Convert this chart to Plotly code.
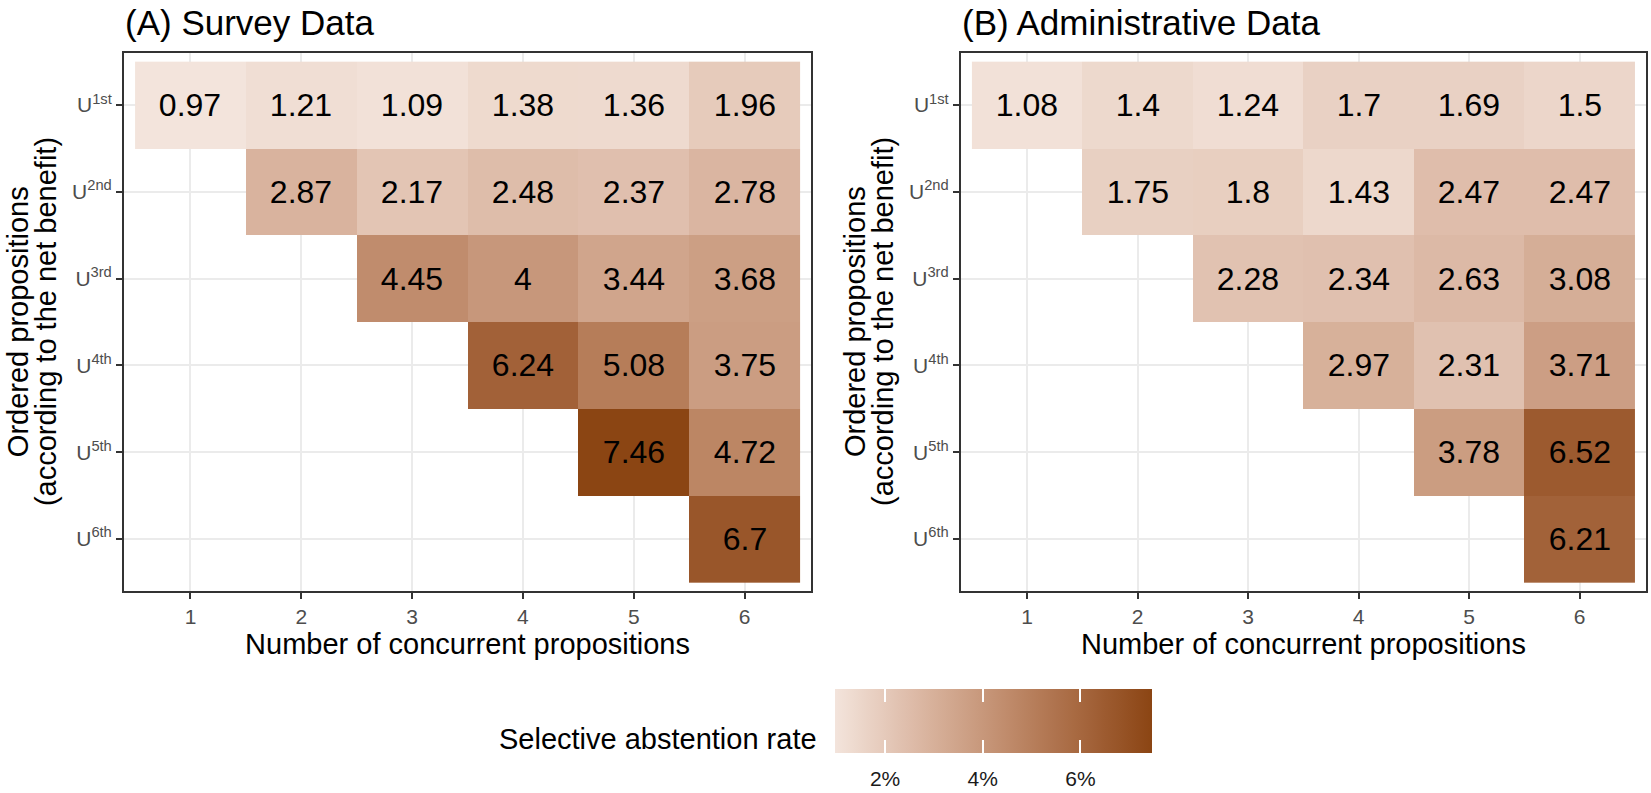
import plotly.graph_objects as go
import numpy as np

# ---------------- data ----------------
n_props = [1, 2, 3, 4, 5, 6]
rank_labels = ["U<sup>1st</sup>", "U<sup>2nd</sup>", "U<sup>3rd</sup>",
               "U<sup>4th</sup>", "U<sup>5th</sup>", "U<sup>6th</sup>"]
ranks = [1, 2, 3, 4, 5, 6]

survey_u1 = [0.97, 1.21, 1.09, 1.38, 1.36, 1.96]
survey_u2 = [None, 2.87, 2.17, 2.48, 2.37, 2.78]
survey_u3 = [None, None, 4.45, 4.00, 3.44, 3.68]
survey_u4 = [None, None, None, 6.24, 5.08, 3.75]
survey_u5 = [None, None, None, None, 7.46, 4.72]
survey_u6 = [None, None, None, None, None, 6.70]

admin_u1 = [1.08, 1.40, 1.24, 1.70, 1.69, 1.50]
admin_u2 = [None, 1.75, 1.80, 1.43, 2.47, 2.47]
admin_u3 = [None, None, 2.28, 2.34, 2.63, 3.08]
admin_u4 = [None, None, None, 2.97, 2.31, 3.71]
admin_u5 = [None, None, None, None, 3.78, 6.52]
admin_u6 = [None, None, None, None, None, 6.21]

colorbar_ticks = [2, 4, 6]
colorbar_ticklabels = ["2%", "4%", "6%"]

survey = [survey_u1, survey_u2, survey_u3, survey_u4, survey_u5, survey_u6]
admin = [admin_u1, admin_u2, admin_u3, admin_u4, admin_u5, admin_u6]

# --------------- colour scale (Lab interpolation like ggplot) ---------------
LOW = "#F3E4DC"
HIGH = "#8B4513"


def hex2rgb(h):
    h = h.lstrip("#")
    return np.array([int(h[i:i + 2], 16) / 255 for i in (0, 2, 4)])


def srgb2lin(c):
    return np.where(c <= 0.04045, c / 12.92, ((c + 0.055) / 1.055) ** 2.4)


def lin2srgb(c):
    c = np.clip(c, 0, 1)
    return np.where(c <= 0.0031308, 12.92 * c, 1.055 * c ** (1 / 2.4) - 0.055)


M = np.array([[0.4124564, 0.3575761, 0.1804375],
              [0.2126729, 0.7151522, 0.0721750],
              [0.0193339, 0.1191920, 0.9503041]])
WP = np.array([0.95047, 1.0, 1.08883])


def f(t):
    d = 6 / 29
    return np.where(t > d ** 3, np.cbrt(t), t / (3 * d * d) + 4 / 29)


def finv(t):
    d = 6 / 29
    return np.where(t > d, t ** 3, 3 * d * d * (t - 4 / 29))


def rgb2lab(rgb):
    xyz = M @ srgb2lin(rgb) / WP
    fx, fy, fz = f(xyz)
    return np.array([116 * fy - 16, 500 * (fx - fy), 200 * (fy - fz)])


def lab2rgb(lab):
    L, a, b = lab
    fy = (L + 16) / 116
    fx = fy + a / 500
    fz = fy - b / 200
    xyz = np.array([finv(fx), finv(fy), finv(fz)]) * WP
    return lin2srgb(np.linalg.inv(M) @ xyz)


lab_lo, lab_hi = rgb2lab(hex2rgb(LOW)), rgb2lab(hex2rgb(HIGH))
colorscale = []
for t in np.linspace(0, 1, 21):
    r, g, b = (lab2rgb(lab_lo + (lab_hi - lab_lo) * t) * 255).round().astype(int)
    colorscale.append([float(t), f"rgb({r},{g},{b})"])

allvals = [v for m in (survey, admin) for row in m for v in row if v is not None]
cmin, cmax = min(allvals), max(allvals)


def labels(m):
    return [["" if v is None else f"{v:g}" for v in row] for row in m]


# ---------------- figure ----------------
W, H = 1651, 793
ML, MR, MT, MB = 124, 3, 53, 200
PW = W - ML - MR
PH = H - MT - MB
FONT = "Liberation Sans, Arial, sans-serif"


def px_x(p):
    return (p - ML) / PW


def px_y(p):
    return (H - MB - p) / PH


fig = go.Figure()
for m, xa, ya in ((survey, "x", "y"), (admin, "x2", "y2")):
    fig.add_trace(go.Heatmap(
        x=n_props, y=ranks, z=m, text=labels(m), texttemplate="%{text}",
        textfont=dict(size=32, color="black", family=FONT),
        coloraxis="coloraxis", xaxis=xa, yaxis=ya, xgap=0, ygap=0,
        hoverongaps=False,
    ))

# invisible copies only used to draw the white tick marks of the colour bar
for cax in ("coloraxis2", "coloraxis3"):
    fig.add_trace(go.Heatmap(
        x=n_props, y=ranks, z=survey, coloraxis=cax, xaxis="x", yaxis="y",
        opacity=0, hoverinfo="skip", showlegend=False,
    ))

tickfont = dict(size=21, color="#4D4D4D", family=FONT)
titlefont = dict(size=29, color="black", family=FONT)

xcommon = dict(range=[0.4, 6.6], tickvals=n_props, ticktext=[str(v) for v in n_props],
               showgrid=True, gridcolor="#EBEBEB", gridwidth=1.5, zeroline=False,
               showline=True, mirror=True, linecolor="#333333", linewidth=2,
               ticks="outside", ticklen=6, tickwidth=1.5, tickcolor="#333333",
               tickfont=tickfont,
               title=dict(text="Number of concurrent propositions", font=titlefont, standoff=6))
ycommon = dict(range=[6.6, 0.4], tickvals=ranks, ticktext=rank_labels,
               showgrid=True, gridcolor="#EBEBEB", gridwidth=1.5, zeroline=False,
               showline=True, mirror=True, linecolor="#333333", linewidth=2,
               ticks="outside", ticklen=6, tickwidth=1.5, tickcolor="#333333",
               tickfont=tickfont)

ytitle_lines = ["Ordered propositions", "(according to the net benefit)"]
annotations = [
    dict(text="(A) Survey Data", x=px_x(123), y=px_y(22), xref="paper", yref="paper",
         xanchor="left", yanchor="middle", showarrow=False,
         font=dict(size=35, color="black", family=FONT)),
    dict(text="(B) Administrative Data", x=px_x(961), y=px_y(22), xref="paper", yref="paper",
         xanchor="left", yanchor="middle", showarrow=False,
         font=dict(size=35, color="black", family=FONT)),
    dict(text="Selective abstention rate", x=px_x(820), y=px_y(742), xref="paper", yref="paper",
         xanchor="right", yanchor="middle", showarrow=False,
         font=dict(size=29, color="black", family=FONT)),
]
for left in (0, 838):
    for i, line in enumerate(ytitle_lines):
        annotations.append(dict(
            text=line, textangle=-90, x=px_x(left + 18 + 28 * i), y=px_y(323),
            xref="paper", yref="paper", xanchor="center", yanchor="middle",
            showarrow=False, font=titlefont))

cb_common = dict(orientation="h", lenmode="pixels", len=317, thicknessmode="pixels",
                 x=px_x(994.4), xanchor="center", y=px_y(691.7), yanchor="top",
                 xpad=0, ypad=0, outlinewidth=0, tickvals=colorbar_ticks)

fig.update_layout(
    width=W, height=H, margin=dict(l=ML, r=MR, t=MT, b=MB),
    paper_bgcolor="white", plot_bgcolor="white",
    font=dict(family=FONT, color="black"),
    xaxis=dict(domain=[0, px_x(812)], anchor="y", **xcommon),
    yaxis=dict(domain=[0, 1], anchor="x", **ycommon),
    xaxis2=dict(domain=[px_x(962), 1], anchor="y2", **xcommon),
    yaxis2=dict(domain=[0, 1], anchor="x2", **ycommon),
    coloraxis=dict(
        colorscale=colorscale, cmin=cmin, cmax=cmax,
        colorbar=dict(
            thickness=64, ticktext=colorbar_ticklabels,
            ticks="outside", ticklen=8, tickwidth=1, tickcolor="rgba(0,0,0,0)",
            tickfont=dict(size=21, color="#1A1A1A", family=FONT), **cb_common,
        ),
    ),
    coloraxis2=dict(
        colorscale=colorscale, cmin=cmin, cmax=cmax,
        colorbar=dict(thickness=64, ticks="inside", ticklen=13, tickwidth=1.5,
                      tickcolor="white", showticklabels=False, **cb_common),
    ),
    coloraxis3=dict(
        colorscale=colorscale, cmin=cmin, cmax=cmax,
        colorbar=dict(thickness=13, ticks="inside", ticklen=13, tickwidth=1.5,
                      tickcolor="white", showticklabels=False, **cb_common),
    ),
    annotations=annotations,
)

fig.write_html("out.html", config={"displayModeBar": False},
               post_script="document.body.style.margin='0';document.body.style.overflow='hidden';")
